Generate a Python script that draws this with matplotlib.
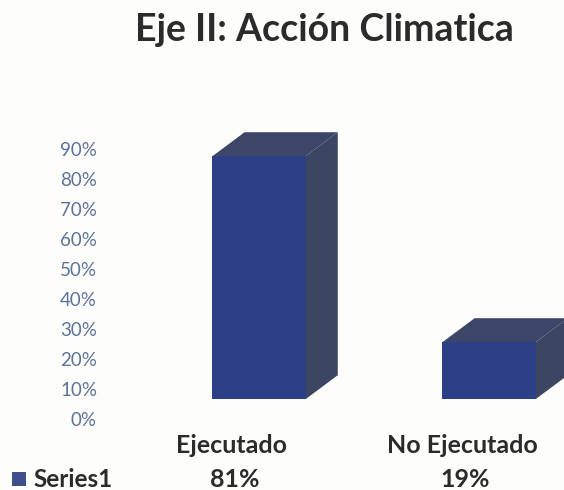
import matplotlib
matplotlib.use("Agg")
import matplotlib.pyplot as plt
from matplotlib.patches import Polygon, Rectangle

categories = ["Ejecutado", "No Ejecutado"]
values = [81, 19]
value_labels = ["81%", "19%"]
y_ticks = [0, 10, 20, 30, 40, 50, 60, 70, 80, 90]
y_tick_labels = ["0%", "10%", "20%", "30%", "40%", "50%", "60%", "70%", "80%", "90%"]
series_name = "Series1"
title = "Eje II: Acción Climatica"

W, H = 564, 490
plt.rcParams["font.family"] = ["Lato", "DejaVu Sans"]

fig = plt.figure(figsize=(W / 100, H / 100), dpi=100, facecolor="#fdfdfb")

# axis: 0% at y=419px, 90% at y=149px, first bar centre at x=259px, spacing 230px
left_px, bottom_px, top_px = 115, 419, 149
ax = fig.add_axes([left_px / W, 1 - bottom_px / H, 1 - left_px / W, (bottom_px - top_px) / H])
ax.set_ylim(0, 90)
ax.set_xlim((left_px - 259) / 230, (W - 259) / 230)
ax.patch.set_alpha(0)
for s in ax.spines.values():
    s.set_visible(False)

ax.set_yticks(y_ticks)
ax.set_yticklabels(y_tick_labels, fontsize=13.5, color="#5f7299")
ax.tick_params(axis="y", length=0, pad=13)
ax.set_xticks([])

# fake 3d box
bar_w = 0.405
depth_x = 0.14
depth_y = 8.0
floor = 6.6
front_col = "#2d3f87"
side_col = "#3c4663"
top_col = "#3c4669"

for i, v in enumerate(values):
    x0 = i - bar_w / 2
    x1 = i + bar_w / 2
    y0 = floor
    y1 = floor + v
    ax.add_patch(Polygon([(x1, y0), (x1 + depth_x, y0 + depth_y), (x1 + depth_x, y1 + depth_y), (x1, y1)],
                         color=side_col, lw=0, clip_on=False))
    ax.add_patch(Polygon([(x0, y1), (x0 + depth_x, y1 + depth_y), (x1 + depth_x, y1 + depth_y), (x1, y1)],
                         color=top_col, lw=0, clip_on=False))
    ax.add_patch(Rectangle((x0, y0), bar_w, v, color=front_col, lw=0, clip_on=False))

# data table under the chart
for i, (c, lab) in enumerate(zip(categories, value_labels)):
    fig.text((259 + 230 * i - 27) / W, 1 - 445 / H, c, fontsize=18, fontweight="bold",
             color="#2b2b2b", ha="center", va="center")
    fig.text((259 + 230 * i - 24) / W, 1 - 479 / H, lab, fontsize=18, fontweight="bold",
             color="#2b2b2b", ha="center", va="center")

fig.patches.append(Rectangle((12 / W, 1 - 486 / H), 14 / W, 14 / H, transform=fig.transFigure,
                             color="#3f4f8c", lw=0))
fig.text(33 / W, 1 - 479 / H, series_name, fontsize=17.5, fontweight="bold",
         color="#2b2b2b", ha="left", va="center")

fig.text(324 / W, 1 - 30 / H, title, fontsize=27, fontweight="bold",
         color="#2b2b2b", ha="center", va="center")

fig.savefig("out.png", dpi=100, facecolor=fig.get_facecolor())
